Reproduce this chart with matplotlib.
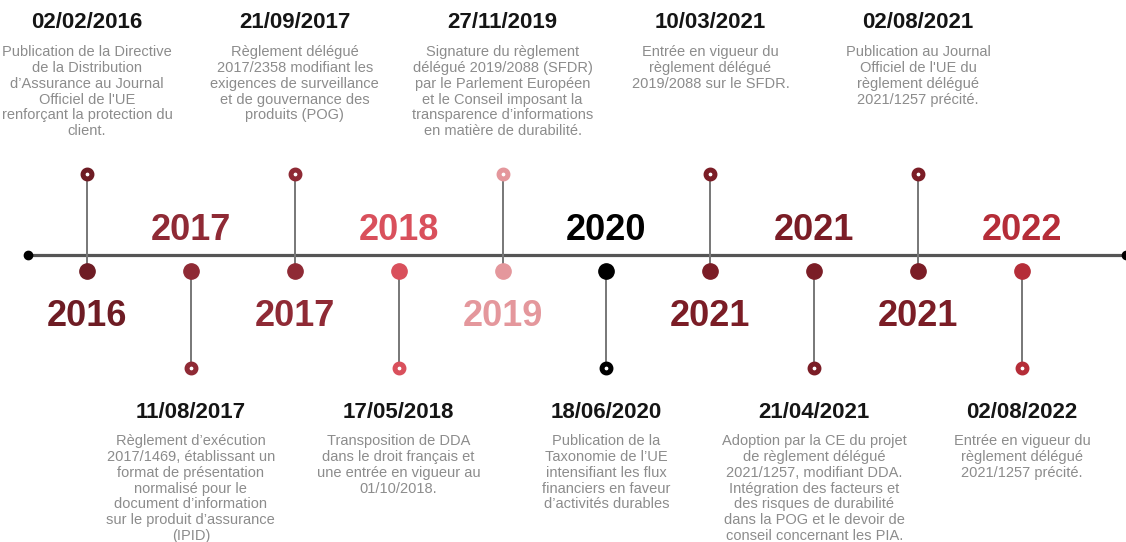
import matplotlib.pyplot as plt

plt.rcParams['font.family'] = ['Liberation Sans', 'DejaVu Sans']

# timeline events, left to right
years = ['2016', '2017', '2017', '2018', '2019', '2020', '2021', '2021', '2021', '2022']
dates = ['02/02/2016', '11/08/2017', '21/09/2017', '17/05/2018', '27/11/2019',
         '18/06/2020', '10/03/2021', '21/04/2021', '02/08/2021', '02/08/2022']
sides = ['up', 'down', 'up', 'down', 'up', 'down', 'up', 'down', 'up', 'down']
descriptions = [
    "Publication de la Directive\nde la Distribution\nd’Assurance au Journal\nOfficiel de l'UE\nrenforçant la protection du\nclient.",
    "Règlement d’exécution\n2017/1469, établissant un\nformat de présentation\nnormalisé pour le\ndocument d’information\nsur le produit d’assurance\n(IPID)",
    "Règlement délégué\n2017/2358 modifiant les\nexigences de surveillance\net de gouvernance des\nproduits (POG)",
    "Transposition de DDA\ndans le droit français et\nune entrée en vigueur au\n01/10/2018.",
    "Signature du règlement\ndélégué 2019/2088 (SFDR)\npar le Parlement Européen\net le Conseil imposant la\ntransparence d’informations\nen matière de durabilité.",
    "Publication de la\nTaxonomie de l’UE\nintensifiant les flux\nfinanciers en faveur\nd’activités durables",
    "Entrée en vigueur du\nrèglement délégué\n2019/2088 sur le SFDR.",
    "Adoption par la CE du projet\nde règlement délégué\n2021/1257, modifiant DDA.\nIntégration des facteurs et\ndes risques de durabilité\ndans la POG et le devoir de\nconseil concernant les PIA.",
    "Publication au Journal\nOfficiel de l'UE du\nrèglement délégué\n2021/1257 précité.",
    "Entrée en vigueur du\nrèglement délégué\n2021/1257 précité.",
]
year_colors = {'2016': '#6e1c24', '2017': '#8f2a35', '2018': '#d9505c', '2019': '#e4979c',
               '2020': '#000000', '2021': '#7b1d26', '2022': '#b52d38'}

fig = plt.figure(figsize=(11.26, 5.42), dpi=100)
ax = fig.add_axes([0, 0, 1, 1])
ax.set_xlim(-0.837, 10.0)
ax.set_ylim(542, 0)
ax.axis('off')

line_y = 255
dot_y = 271
top_y = 174
bot_y = 368

ax.plot([-0.568, 10.0], [line_y, line_y], color='#555555', lw=2.3, zorder=1)
ax.plot([-0.568, 10.0], [line_y, line_y], 'o', color='black', ms=6, zorder=2)

for i, (yr, d, side, desc) in enumerate(zip(years, dates, sides, descriptions)):
    c = year_colors[yr]
    end_y = top_y if side == 'up' else bot_y
    ax.plot([i, i], [dot_y, end_y], color='#777777', lw=1.4, zorder=2)
    ax.plot(i, dot_y, 'o', color=c, ms=11, mec=c, zorder=3)
    ax.plot(i, end_y, 'o', mfc='white', mec=c, ms=6.4, mew=3.6, zorder=3)
    if side == 'up':
        ax.text(i, 316, yr, color=c, fontsize=26, fontweight='bold', ha='center', va='center')
        ax.text(i, 23, d, color='#151515', fontsize=16, fontweight='bold', ha='center', va='center')
        ax.text(i, 45, desc, color='#8c8c8c', fontsize=10.5, ha='center', va='top', linespacing=1.17)
    else:
        ax.text(i, 231, yr, color=c, fontsize=26, fontweight='bold', ha='center', va='center')
        ax.text(i, 413, d, color='#151515', fontsize=16, fontweight='bold', ha='center', va='center')
        ax.text(i, 434, desc, color='#8c8c8c', fontsize=10.5, ha='center', va='top', linespacing=1.17)

fig.savefig('out.png', dpi=100, facecolor='white')
